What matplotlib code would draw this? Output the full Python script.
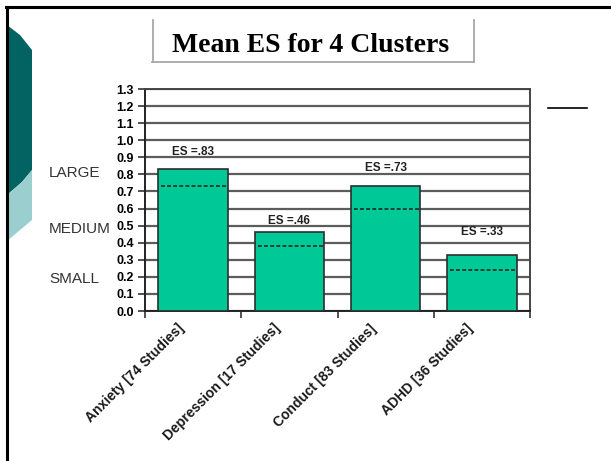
import numpy as np
import matplotlib
matplotlib.use("Agg")
from matplotlib import pyplot as plt
from matplotlib.patches import Polygon
from matplotlib.lines import Line2D
import matplotlib.transforms as mtransforms

plt.rcParams['font.family'] = ['Liberation Sans', 'DejaVu Sans']

# effect sizes per cluster
clusters = ["Anxiety [74 Studies]", "Depression [17 Studies]",
            "Conduct [83 Studies]", "ADHD [36 Studies]"]
mean_es = [0.83, 0.46, 0.73, 0.33]
es_labels = ["ES =.83", "ES =.46", "ES =.73", "ES =.33"]
ref_lines = [0.73, 0.38, 0.60, 0.24]
label_dy = [0.10, 0.065, 0.105, 0.135]

bands = ["LARGE", "MEDIUM", "SMALL"]
band_y = [0.81, 0.48, 0.19]

W, H = 611, 461
fig = plt.figure(figsize=(W / 100, H / 100), dpi=100)


def px(x, y):
    # pixel position (from top-left) -> figure fraction
    return x / W, 1 - y / H


# slide border
fig.add_artist(Line2D([6 / W, 1], [1 - 7.5 / H] * 2, color='black', lw=2.2))
fig.add_artist(Line2D([6.5 / W] * 2, [0, 1 - 7.5 / H], color='black', lw=2.2))

# teal decoration on the left edge
dark = [px(7, 25), px(20, 35), px(32, 50), px(32, 170), px(22, 182), px(7, 195)]
light = [px(7, 195), px(22, 182), px(32, 170), px(32, 220), px(7, 241)]
fig.add_artist(Polygon(dark, closed=True, transform=fig.transFigure,
                       facecolor='#036362', edgecolor='none'))
fig.add_artist(Polygon(light, closed=True, transform=fig.transFigure,
                       facecolor='#9bcfcf', edgecolor='none'))

# title box
for xs, ys in [([152.5, 152.5], [20, 62]), ([473.5, 473.5], [20, 62]), ([152, 474], [62, 62])]:
    fig.add_artist(Line2D([x / W for x in xs], [1 - y / H for y in ys],
                          color='#a8a8a8', lw=1.3))
fig.text(311 / W, 1 - 52 / H, "Mean ES for 4 Clusters", ha='center', va='baseline',
         fontsize=20, fontweight='bold', family=['Liberation Serif', 'DejaVu Serif'])

# short line on the right
fig.add_artist(Line2D([548 / W, 587 / W], [1 - 108 / H] * 2, color='black', lw=1.2))

ax = fig.add_axes([145 / W, 1 - 311 / H, 385 / W, 222 / H])
x = np.arange(len(clusters))
ax.set_xlim(-0.5, len(clusters) - 0.5)
ax.set_ylim(0, 1.3)

ax.set_yticks(np.round(np.arange(0, 1.31, 0.1), 1))
ax.set_yticklabels([f"{v:.1f}" for v in np.arange(0, 1.31, 0.1)],
                   fontsize=9, fontweight='bold')
ax.yaxis.grid(True, color='#5c5c5c', lw=1.6)
ax.set_axisbelow(True)

ax.bar(x, mean_es, width=0.72, color='#00c896', edgecolor='#2e2e2e', lw=1.2, zorder=3)
for i, r in enumerate(ref_lines):
    ax.hlines(r, i - 0.33, i + 0.35, colors='#1a1a1a', linestyles=(0, (2.5, 1.5)),
              lw=1.1, zorder=4)
for i, (v, t) in enumerate(zip(mean_es, es_labels)):
    ax.text(i, v + label_dy[i], t, ha='center', va='center',
            fontsize=8.5, fontweight='bold', color='#222222')

ax.set_xticks(np.arange(-0.5, len(clusters)), labels=[])
ax.set_xticks(x, labels=clusters, minor=True)
ax.tick_params(axis='x', which='minor', length=0, pad=4)
ax.tick_params(axis='x', which='major', length=5, width=1.2, color='#333333')
ax.tick_params(axis='y', length=5, width=1.2, color='#333333', pad=3)
shift = mtransforms.ScaledTranslation(-16 / 100, -5 / 100, fig.dpi_scale_trans)
for lab in ax.get_xticklabels(minor=True):
    lab.set_rotation(45)
    lab.set_ha('right')
    lab.set_rotation_mode('anchor')
    lab.set_fontsize(10)
    lab.set_fontweight('bold')
    lab.set_color('#1a1a1a')
    lab.set_transform(lab.get_transform() + shift)

for s in ['left', 'bottom']:
    ax.spines[s].set_color('#222222')
    ax.spines[s].set_linewidth(1.4)
for s in ['top', 'right']:
    ax.spines[s].set_color('#444444')
    ax.spines[s].set_linewidth(1.4)

# effect size bands to the left of the axis
trans = mtransforms.blended_transform_factory(fig.transFigure, ax.transData)
for name, y in zip(bands, band_y):
    ax.text(49 / W, y, name, transform=trans, ha='left', va='center',
            fontsize=11, color='#333333')

fig.savefig("out.png", dpi=100)
